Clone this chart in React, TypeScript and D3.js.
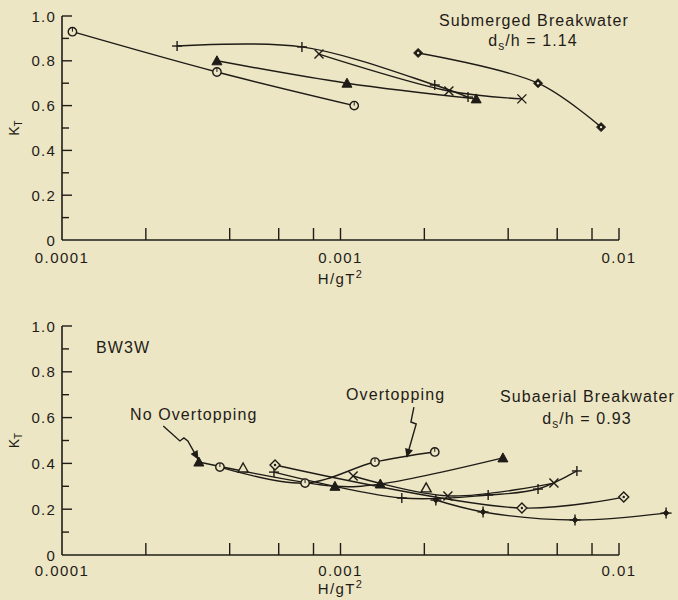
import React from "react";
import * as d3 from "d3";

// ---------- axis ticks / labels ----------
const xTickValues = [0.0001, 0.0002, 0.0004, 0.0006, 0.0008, 0.001, 0.002, 0.004, 0.006, 0.008, 0.01];
const xLabelValues = [0.0001, 0.001, 0.01];
const xLabelTexts = ["0.0001", "0.001", "0.01"];
const yTickValues = [0.1, 0.2, 0.3, 0.4, 0.5, 0.6, 0.7, 0.8, 0.9, 1.0];
const yLabelValues = [0, 0.2, 0.4, 0.6, 0.8, 1.0];
const yLabelTexts = ["0", "0.2", "0.4", "0.6", "0.8", "1.0"];

// ---------- top panel: Submerged breakwater, ds/h = 1.14 ----------
const topCircleX = [0.000109, 0.00036, 0.00112];
const topCircleY = [0.93, 0.75, 0.6];
const topPlusX = [0.000259, 0.000727, 0.00218, 0.00287];
const topPlusY = [0.866, 0.862, 0.692, 0.638];
const topCrossX = [0.000837, 0.00245, 0.00448];
const topCrossY = [0.83, 0.665, 0.63];
const topTriX = [0.00036, 0.001055, 0.00307];
const topTriY = [0.8, 0.7, 0.63];
const topDiamondX = [0.0019, 0.00512, 0.00862];
const topDiamondY = [0.835, 0.7, 0.504];

// ---------- bottom panel: Subaerial breakwater, ds/h = 0.93 ----------
const botCircleX = [0.000369, 0.000746, 0.00133, 0.00218];
const botCircleY = [0.384, 0.314, 0.406, 0.45];
const botTriX = [0.00031, 0.000955, 0.00139, 0.00383];
const botTriY = [0.406, 0.3, 0.31, 0.424];
const botOpenTriX = [0.000447, 0.00203];
const botOpenTriY = [0.38, 0.293];
const botPlusX = [0.000577, 0.00166, 0.00339, 0.00512, 0.00706];
const botPlusY = [0.362, 0.249, 0.262, 0.288, 0.367];
const botCrossX = [0.00111, 0.00243, 0.00584];
const botCrossY = [0.345, 0.258, 0.314];
const botOpenDiamondX = [0.000582, 0.00448, 0.0104];
const botOpenDiamondY = [0.393, 0.205, 0.253];
const botFilledX = [0.0022, 0.00325, 0.00695, 0.01476];
const botFilledY = [0.24, 0.188, 0.153, 0.183];

// annotation arrows (data coordinates)
const noOverArrowX = [0.000231, 0.000265, 0.000274, 0.000283, 0.000308];
const noOverArrowY = [0.563, 0.498, 0.511, 0.498, 0.419];
const overArrowX = [0.001835, 0.00179, 0.00187, 0.00173];
const overArrowY = [0.646, 0.581, 0.572, 0.428];

type Series = { x: number[]; y: number[]; marker: string; line: boolean };

const topSeries: Series[] = [
  { x: topCircleX, y: topCircleY, marker: "circle", line: true },
  { x: topPlusX, y: topPlusY, marker: "plus", line: true },
  { x: topCrossX, y: topCrossY, marker: "cross", line: true },
  { x: topTriX, y: topTriY, marker: "triFilled", line: true },
  { x: topDiamondX, y: topDiamondY, marker: "diamondDot", line: true },
];

const botSeries: Series[] = [
  { x: botCircleX, y: botCircleY, marker: "circle", line: true },
  { x: botTriX, y: botTriY, marker: "triFilled", line: true },
  { x: botOpenTriX, y: botOpenTriY, marker: "triOpen", line: false },
  { x: botPlusX, y: botPlusY, marker: "plus", line: true },
  { x: botCrossX, y: botCrossY, marker: "cross", line: true },
  { x: botOpenDiamondX, y: botOpenDiamondY, marker: "diamondOpen", line: true },
  { x: botFilledX, y: botFilledY, marker: "plusFilled", line: true },
];

const INK = "#1f1c17";
const BG = "#ECE6C5";
const FONT = "'Liberation Sans', Arial, sans-serif";

const x = d3.scaleLog().domain([0.0001, 0.01]).range([62, 619]);
const yTop = d3.scaleLinear().domain([0, 1]).range([240, 16]);
const yBot = d3.scaleLinear().domain([0, 1]).range([555, 326]);

function Marker({ type, cx, cy }: { type: string; cx: number; cy: number }) {
  const sw = 1.4;
  const t = `translate(${cx},${cy})`;
  switch (type) {
    case "circle":
      return (
        <g transform={t}>
          <circle r={4.2} fill={BG} stroke={INK} strokeWidth={sw} />
          <line x1={0} y1={-4} x2={0} y2={0} stroke={INK} strokeWidth={1} />
        </g>
      );
    case "plus":
      return (
        <g transform={t} stroke={INK} strokeWidth={sw}>
          <line x1={-5} y1={0} x2={5} y2={0} />
          <line x1={0} y1={-5} x2={0} y2={5} />
        </g>
      );
    case "cross":
      return (
        <g transform={t} stroke={INK} strokeWidth={sw}>
          <line x1={-4.5} y1={-4.5} x2={4.5} y2={4.5} />
          <line x1={-4.5} y1={4.5} x2={4.5} y2={-4.5} />
        </g>
      );
    case "triFilled":
      return <path transform={t} d="M0,-5L5,4L-5,4Z" fill={INK} stroke={INK} strokeWidth={1} />;
    case "triOpen":
      return <path transform={t} d="M0,-5L5,4L-5,4Z" fill={BG} stroke={INK} strokeWidth={sw} />;
    case "diamondDot":
      return (
        <g transform={t}>
          <path d="M0,-4.5L4.5,0L0,4.5L-4.5,0Z" fill={INK} stroke={INK} strokeWidth={1} />
          <circle r={1.2} fill={BG} />
        </g>
      );
    case "diamondOpen":
      return (
        <g transform={t}>
          <path d="M0,-5L5,0L0,5L-5,0Z" fill={BG} stroke={INK} strokeWidth={sw} />
          <circle r={1.2} fill={INK} />
        </g>
      );
    case "plusFilled":
      return (
        <g transform={t} stroke={INK} strokeWidth={sw}>
          <line x1={-5.5} y1={0} x2={5.5} y2={0} />
          <line x1={0} y1={-5.5} x2={0} y2={5.5} />
          <path d="M0,-3L3,0L0,3L-3,0Z" fill={INK} strokeWidth={0.8} />
        </g>
      );
    default:
      return null;
  }
}

function Panel({
  y,
  series,
  labelGap,
  titleGap,
}: {
  y: d3.ScaleLinear<number, number>;
  series: Series[];
  labelGap: number;
  titleGap: number;
}) {
  const x0 = x(0.0001);
  const y0 = y(0);
  const line = d3
    .line<[number, number]>()
    .x((d) => x(d[0]))
    .y((d) => y(d[1]))
    .curve(d3.curveCatmullRom.alpha(0.5));
  return (
    <g>
      {/* axes */}
      <line x1={x0} y1={y(1)} x2={x0} y2={y0} stroke={INK} strokeWidth={1.6} />
      <line x1={x0} y1={y0} x2={x(0.01)} y2={y0} stroke={INK} strokeWidth={1.6} />
      {yTickValues.map((v, i) => {
        const major = Math.round(v * 10) % 2 === 0;
        return (
          <line
            key={"yt" + i}
            x1={x0}
            x2={x0 + (major ? 10 : 7)}
            y1={y(v)}
            y2={y(v)}
            stroke={INK}
            strokeWidth={1.4}
          />
        );
      })}
      {xTickValues.slice(1).map((v, i) => (
        <line key={"xt" + i} x1={x(v)} x2={x(v)} y1={y0} y2={y0 - 12} stroke={INK} strokeWidth={1.4} />
      ))}
      {yLabelValues.map((v, i) => (
        <text
          key={"yl" + i}
          x={x0 - 6}
          y={y(v) + 5.5}
          textAnchor="end"
          fontSize={15}
          letterSpacing={1.2}
          fill={INK}
          fontFamily={FONT}
        >
          {yLabelTexts[i]}
        </text>
      ))}
      {xLabelValues.map((v, i) => (
        <text
          key={"xl" + i}
          x={x(v)}
          y={y0 + labelGap}
          textAnchor="middle"
          fontSize={15}
          letterSpacing={1.4}
          fill={INK}
          fontFamily={FONT}
        >
          {xLabelTexts[i]}
        </text>
      ))}
      <text x={x(0.001)} y={y0 + titleGap} textAnchor="middle" fontSize={15} letterSpacing={1.4} fill={INK} fontFamily={FONT}>
        H/gT
        <tspan dy={-6} fontSize={11}>
          2
        </tspan>
      </text>
      <text
        transform={`translate(19,${(y(0) + y(1)) / 2}) rotate(-90)`}
        textAnchor="middle"
        fontSize={14}
        fill={INK}
        fontFamily={FONT}
      >
        K
        <tspan dy={3} fontSize={10}>
          T
        </tspan>
      </text>
      {/* series */}
      {series.map((s, i) =>
        s.line ? (
          <path
            key={"l" + i}
            d={line(s.x.map((xv, j) => [xv, s.y[j]] as [number, number])) || ""}
            fill="none"
            stroke={INK}
            strokeWidth={1.4}
          />
        ) : null
      )}
      {series.map((s, i) =>
        s.x.map((xv, j) => <Marker key={"m" + i + "_" + j} type={s.marker} cx={x(xv)} cy={y(s.y[j])} />)
      )}
    </g>
  );
}

export default function App() {
  const arrowLine = d3
    .line<[number, number]>()
    .x((d) => x(d[0]))
    .y((d) => yBot(d[1]));
  const noOver = noOverArrowX.map((v, i) => [v, noOverArrowY[i]] as [number, number]);
  const over = overArrowX.map((v, i) => [v, overArrowY[i]] as [number, number]);
  const textProps = { fontSize: 16, letterSpacing: 1.1, fill: INK, fontFamily: FONT };
  return (
    <svg
      width={678}
      height={600}
      viewBox="0 0 678 600"
      style={{ position: "absolute", left: 0, top: 0, display: "block" }}
    >
      <defs>
        <marker
          id="arrowHead"
          viewBox="0 0 10 10"
          refX={9}
          refY={5}
          markerWidth={11}
          markerHeight={9}
          markerUnits="userSpaceOnUse"
          orient="auto"
        >
          <path d="M0,0.5L10,5L0,9.5Z" fill={INK} />
        </marker>
      </defs>
      <rect x={0} y={0} width={678} height={600} fill={BG} />
      <Panel y={yTop} series={topSeries} labelGap={23} titleGap={44} />
      <Panel y={yBot} series={botSeries} labelGap={21} titleGap={39} />

      {/* top annotations */}
      <text x={534} y={26} textAnchor="middle" {...textProps}>
        Submerged Breakwater
      </text>
      <text x={533} y={46} textAnchor="middle" {...textProps}>
        d
        <tspan dy={4} fontSize={12}>
          s
        </tspan>
        <tspan dy={-4}>/h = 1.14</tspan>
      </text>

      {/* bottom annotations */}
      <text x={96} y={353} {...textProps}>
        BW3W
      </text>
      <text x={130} y={420} {...textProps}>
        No Overtopping
      </text>
      <text x={346} y={400} {...textProps}>
        Overtopping
      </text>
      <text x={500} y={402} {...textProps}>
        Subaerial Breakwater
      </text>
      <text x={587} y={424} textAnchor="middle" {...textProps}>
        d
        <tspan dy={4} fontSize={12}>
          s
        </tspan>
        <tspan dy={-4}>/h = 0.93</tspan>
      </text>
      <path d={arrowLine(noOver) || ""} fill="none" stroke={INK} strokeWidth={1.4} markerEnd="url(#arrowHead)" />
      <path d={arrowLine(over) || ""} fill="none" stroke={INK} strokeWidth={1.4} markerEnd="url(#arrowHead)" />
    </svg>
  );
}
